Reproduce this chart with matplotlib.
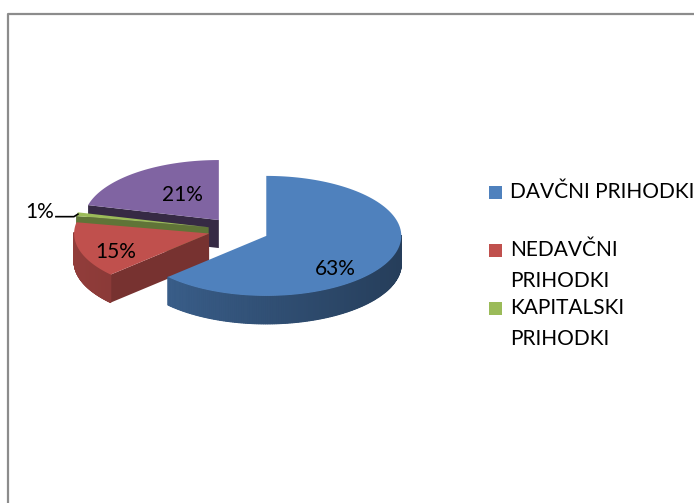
import numpy as np
import matplotlib.pyplot as plt
from matplotlib.patches import Polygon, Rectangle
import matplotlib.colors as mcolors

plt.rcParams['font.family'] = ['Lato', 'DejaVu Sans']

# data
shares = [63, 15, 1, 21]
legend_labels = ['DAVČNI PRIHODKI', 'NEDAVČNI\nPRIHODKI', 'KAPITALSKI\nPRIHODKI']
colors = ['#4F81BD', '#C0504D', '#9BBB59', '#8064A2']

# layout (pixels, y down)
C = np.array([236.0, 230.0])
RX, RY, DEPTH = 135.0, 60.0, 28.0
explode = [33, 28, 28, 28]
lab_f = [(0.56, 1.39), (0.72, 1.08), None, (0.44, 0.53)]

fig = plt.figure(figsize=(6.94, 5.03), dpi=100)
ax = fig.add_axes([0, 0, 1, 1])
ax.set_xlim(0, 694)
ax.set_ylim(503, 0)
ax.axis('off')

# chart frame (only left and top visible)
ax.plot([8.5, 8.5, 694], [503, 13.5, 13.5], color='#8c8c8c', lw=1.6, solid_capstyle='butt')


def shade(col, f):
    r, g, b = mcolors.to_rgb(col)
    return (r * f, g * f, b * f)


def edge_pt(c, a):
    return np.array([c[0] + RX * np.cos(a), c[1] - RY * np.sin(a)])


slices = []
start = 90.0
for i, v in enumerate(shares):
    t1 = start
    t2 = start - v * 3.6
    start = t2
    mid = np.radians((t1 + t2) / 2)
    c = C + explode[i] * np.array([np.cos(mid), -0.45 * np.sin(mid)])
    slices.append((i, np.radians(t2), np.radians(t1), mid, c))

# paint back to front
for i, a2, a1, mid, c in sorted(slices, key=lambda s: s[4][1]):
    col = colors[i]
    dz = np.array([0, DEPTH])
    # cut faces
    for a, n in ((a2, a2 - np.pi / 2), (a1, a1 + np.pi / 2)):
        if np.sin(n) < -0.05:
            p = edge_pt(c, a)
            f = 0.42 if i == 3 else 0.62
            ax.add_patch(Polygon([c, p, p + dz, c + dz], closed=True,
                                 fc=shade(col, f), ec='none'))
    # outer wall: base polygon, then shaded strips on top
    angs = np.linspace(a2, a1, 240)
    front = angs[np.sin(angs) <= 0.02]
    if len(front) > 1:
        up = [edge_pt(c, a) for a in front]
        down = [p + dz for p in up[::-1]]
        ax.add_patch(Polygon(up + down, closed=True, fc=shade(col, 0.6), ec='none'))
        for k in range(len(front) - 1):
            am = (front[k] + front[k + 1]) / 2
            p0, p1 = edge_pt(c, front[k]), edge_pt(c, front[k + 1])
            f = 0.62 + 0.14 * np.cos(am - np.pi)
            ax.add_patch(Polygon([p0, p1, p1 + dz, p0 + dz], closed=True,
                                 fc=shade(col, f), ec=shade(col, f), lw=0.8))
    # top face
    top = [c] + [edge_pt(c, a) for a in np.linspace(a1, a2, 120)]
    ax.add_patch(Polygon(top, closed=True, fc=col, ec='none'))

    # percent labels
    if lab_f[i] is not None:
        fx, fy = lab_f[i]
        lx = c[0] + fx * RX * np.cos(mid)
        ly = c[1] - fy * RY * np.sin(mid)
        ax.text(lx, ly, f'{shares[i]}%', ha='center', va='center', fontsize=15)
    else:
        p = edge_pt(c, mid)
        ax.plot([p[0] + 1, p[0] - 3, p[0] - 21], [p[1], p[1] + 2.5, p[1] + 2.5],
                color='black', lw=1.2)
        ax.text(p[0] - 23, p[1] - 2, f'{shares[i]}%', ha='right', va='center', fontsize=15)

# legend
y = 192
for i, lab in enumerate(legend_labels):
    ax.add_patch(Rectangle((489, y - 6.5), 13, 13, fc=colors[i], ec='none'))
    for j, line in enumerate(lab.split('\n')):
        ax.text(510, y + j * 31, line, ha='left', va='center', fontsize=15)
    y += 58

fig.savefig('out.png', dpi=100)
